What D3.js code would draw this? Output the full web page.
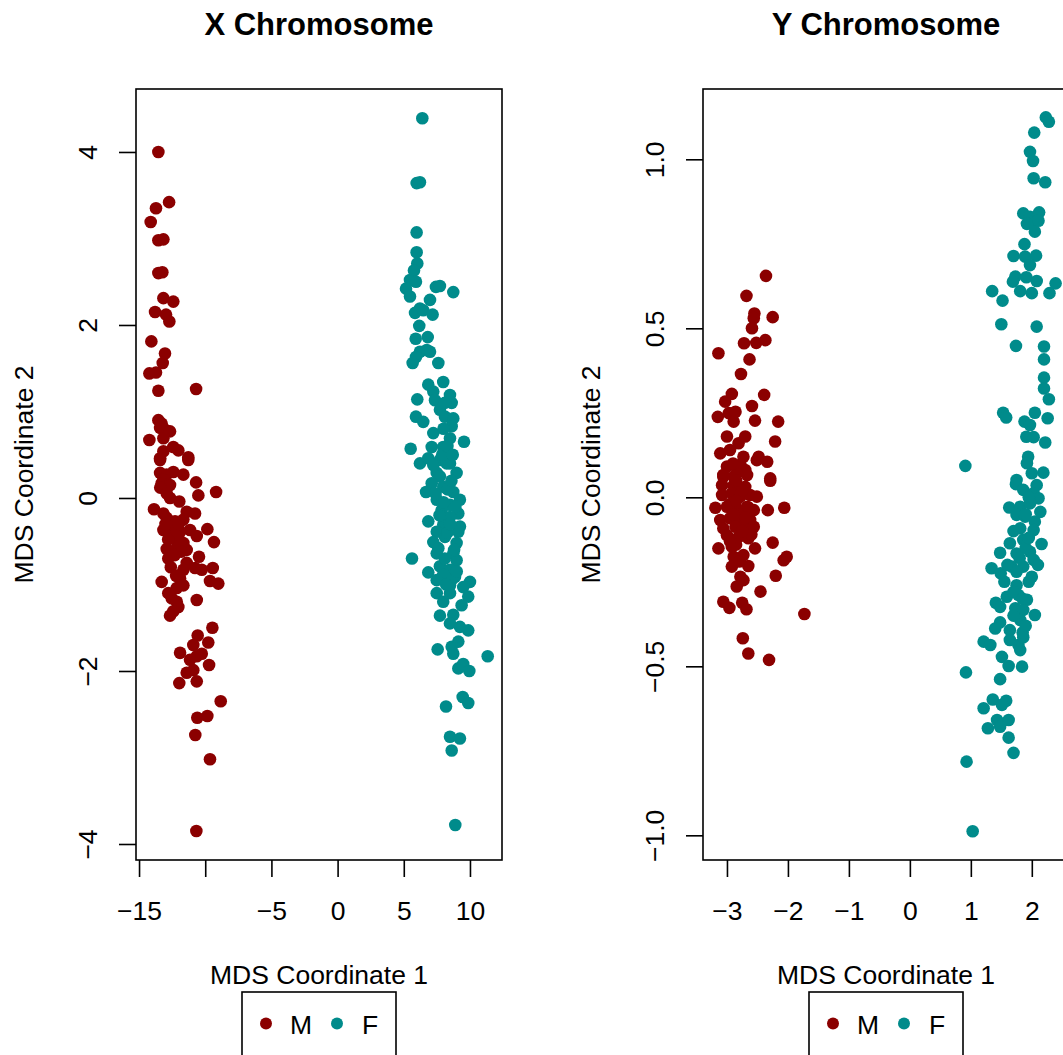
<!DOCTYPE html>
<html>
<head>
<meta charset="utf-8">
<script src="https://cdn.jsdelivr.net/npm/d3@7"></script>
<style>
  html, body { margin: 0; padding: 0; background: #fff; }
  svg text { font-family: "Liberation Sans", Arial, Helvetica, sans-serif; fill: #000; }
</style>
</head>
<body>
<svg id="chart" width="1063" height="1055"></svg>
<script>
// ---------- DATA ----------
const groups = ["M", "F"];
const groupColors = ["#8B0000", "#008B8B"];

const xChrMale = [
  [-13.54,4.00],[-12.73,3.42],[-13.72,3.35],[-14.12,3.19],[-13.54,2.98],[-13.16,2.99],[-13.54,2.60],[-13.24,2.61],
  [-13.16,2.31],[-12.41,2.27],[-13.79,2.15],[-12.96,2.12],[-12.71,2.04],[-14.07,1.81],[-13.04,1.67],[-13.21,1.56],
  [-14.22,1.44],[-13.72,1.45],[-13.54,1.24],[-10.69,1.26],[-13.54,0.90],[-13.29,0.86],[-13.41,0.81],[-13.04,0.79],
  [-12.66,0.77],[-13.16,0.69],[-14.22,0.67],[-12.41,0.59],[-12.03,0.55],[-13.16,0.54],[-13.41,0.46],[-11.28,0.47],
  [-13.41,0.44],[-11.28,0.44],[-13.41,0.29],[-12.91,0.27],[-13.16,0.21],[-12.41,0.30],[-11.65,0.27],[-13.29,0.17],
  [-12.66,0.15],[-10.69,0.18],[-9.18,0.07],[-10.52,0.03],[-12.66,0.00],[-11.96,-0.04],[-13.87,-0.13],[-13.16,-0.18],
  [-11.40,-0.16],[-10.77,-0.18],[-12.91,-0.23],[-12.28,-0.27],[-11.65,-0.25],[-13.16,-0.37],[-12.53,-0.35],[-11.90,-0.39],
  [-11.15,-0.37],[-10.64,-0.44],[-12.66,-0.45],[-12.15,-0.49],[-11.65,-0.52],[-12.91,-0.59],[-12.15,-0.58],[-11.40,-0.60],
  [-12.79,-0.70],[-11.90,-0.50],[-12.41,-0.41],[-9.84,-0.36],[-9.34,-0.51],[-10.47,-0.68],[-11.40,-0.75],[-11.65,-0.83],
  [-10.77,-0.81],[-10.26,-0.83],[-9.43,-0.81],[-13.29,-0.97],[-11.90,-0.93],[-11.65,-1.01],[-12.15,-1.04],[-9.64,-0.96],
  [-9.01,-0.99],[-12.79,-1.10],[-12.53,-1.16],[-12.15,-1.20],[-12.03,-1.26],[-12.41,-1.31],[-12.66,-1.36],[-10.64,-1.18],
  [-9.46,-1.50],[-10.57,-1.59],[-9.77,-1.67],[-10.90,-1.70],[-11.90,-1.79],[-10.26,-1.80],[-10.64,-1.83],[-11.15,-1.87],
  [-9.71,-1.93],[-10.90,-1.99],[-11.40,-2.02],[-11.96,-2.14],[-10.64,-2.12],[-8.83,-2.35],[-10.60,-2.54],[-9.84,-2.52],
  [-10.75,-2.74],[-9.64,-3.02],[-10.67,-3.85],
  [-12.50,-0.30],[-12.20,-0.42],[-12.00,-0.30],[-12.80,-0.48],[-11.80,-0.62],[-12.30,-0.66],[-13.00,-0.30],[-12.60,-0.80],
  [-12.20,-0.90],[-13.40,0.12],[-12.90,0.05]
];

const xChrFemale = [
  [6.40,4.39],[5.97,3.64],[6.22,3.65],[5.97,3.07],[5.97,2.84],[6.02,2.71],[5.77,2.63],[5.47,2.52],[5.92,2.50],[5.17,2.42],
  [5.47,2.33],[7.43,2.44],[7.73,2.45],[8.74,2.38],[6.98,2.29],[6.22,2.19],[5.85,2.14],[6.47,2.17],[7.18,2.12],[6.17,1.99],
  [5.90,1.84],[6.81,1.86],[6.22,1.69],[6.73,1.71],[6.98,1.69],[5.92,1.63],[5.67,1.56],[7.61,1.56],[6.85,1.31],[7.98,1.34],
  [7.23,1.23],[6.02,1.14],[8.49,1.19],[8.62,1.10],[7.36,1.13],[7.73,1.02],[5.92,0.94],[6.47,0.88],[8.11,0.94],[8.74,0.92],
  [8.62,0.83],[7.23,0.75],[8.49,0.69],[9.55,0.65],[7.11,0.59],[7.98,0.59],[5.52,0.57],[6.22,0.40],[6.85,0.46],[7.73,0.44],
  [8.49,0.40],[8.99,0.29],[7.49,0.29],[7.23,0.38],[8.24,0.40],[7.73,0.25],[7.11,0.17],[7.98,0.13],[6.68,0.07],[8.74,0.07],
  [7.49,-0.02],[9.24,-0.02],[8.49,-0.08],[7.86,-0.14],[9.12,-0.18],[8.49,-0.22],[6.85,-0.27],[7.98,-0.31],[9.24,-0.33],[7.49,-0.39],
  [9.12,-0.39],[8.11,-0.45],[7.23,-0.51],[8.99,-0.52],[7.61,-0.58],[7.49,-0.64],[8.74,-0.64],[5.62,-0.70],[8.99,-0.72],[7.73,-0.79],
  [8.49,-0.83],[6.85,-0.86],[7.98,-0.89],[8.87,-0.91],[7.49,-0.95],[10.00,-0.97],[8.49,-1.01],[9.49,-1.03],[7.49,-1.10],[8.49,-1.10],
  [9.87,-1.14],[7.98,-1.20],[9.37,-1.24],[7.73,-1.36],[8.74,-1.35],[8.49,-1.45],[9.24,-1.49],[9.87,-1.53],[9.12,-1.66],[8.62,-1.72],
  [7.56,-1.75],[8.74,-1.80],[11.34,-1.83],[9.12,-1.97],[9.49,-1.92],[9.95,-2.00],[8.19,-2.41],[9.45,-2.30],[9.87,-2.37],[8.49,-2.76],
  [9.24,-2.78],[8.62,-2.92],[8.89,-3.78],
  [8.30,0.10],[8.00,-0.05],[8.60,0.20],[7.70,-0.20],[8.30,-0.40],[8.80,-0.60],[8.10,-0.70],[8.60,-0.95],[8.20,-1.00],[7.90,0.50],
  [8.30,0.60],[8.00,0.80],[8.90,-0.10],[8.50,-0.30],[7.40,0.05],[9.00,-0.85],[8.70,0.50],[8.10,1.10]
];

const yChrMale = [
  [-2.36,0.655],[-2.68,0.596],[-2.55,0.544],[-2.56,0.530],[-2.59,0.500],[-2.25,0.533],[-3.14,0.426],[-2.72,0.456],
  [-2.52,0.457],[-2.37,0.465],[-2.63,0.408],[-2.77,0.365],[-2.92,0.306],[-3.03,0.283],[-2.39,0.303],[-2.59,0.270],
  [-3.15,0.238],[-2.97,0.249],[-2.86,0.253],[-2.89,0.224],[-2.54,0.227],[-2.16,0.224],[-2.21,0.165],[-2.81,0.160],
  [-3.11,0.130],[-2.95,0.140],[-2.73,0.120],[-2.48,0.120],[-2.34,0.105],[-3.00,0.091],[-2.84,0.091],[-2.70,0.081],
  [-2.29,0.056],[-3.06,0.061],[-2.89,0.061],[-2.78,0.096],[-2.51,0.110],[-3.06,0.066],[-2.84,0.071],[-2.67,0.066],
  [-2.29,0.049],[-3.08,0.036],[-2.89,0.036],[-2.70,0.031],[-3.08,0.007],[-2.92,0.012],[-2.78,0.002],[-2.62,0.007],
  [-2.51,0.002],[-3.19,-0.031],[-3.00,-0.028],[-2.84,-0.033],[-2.67,-0.028],[-2.56,-0.038],[-2.33,-0.038],[-2.06,-0.031],
  [-3.11,-0.067],[-2.95,-0.062],[-2.78,-0.072],[-2.62,-0.067],[-3.06,-0.092],[-2.86,-0.087],[-2.70,-0.092],[-2.56,-0.087],
  [-3.00,-0.112],[-2.81,-0.117],[-2.65,-0.121],[-3.14,-0.151],[-2.92,-0.146],[-2.54,-0.151],[-2.25,-0.134],[-2.89,-0.176],
  [-2.73,-0.171],[-2.07,-0.186],[-2.02,-0.176],[-2.92,-0.205],[-2.65,-0.203],[-2.78,-0.235],[-2.20,-0.232],[-2.84,-0.264],
  [-2.73,-0.245],[-2.45,-0.279],[-3.06,-0.309],[-2.96,-0.327],[-2.75,-0.312],[-2.68,-0.331],[-1.73,-0.345],[-2.74,-0.417],
  [-2.65,-0.462],[-2.31,-0.481],
  [-2.80,-0.050],[-2.95,-0.020],[-2.75,0.020],[-2.85,-0.140],[-2.60,-0.110],[-3.00,0.180],[-2.70,0.180],[-2.85,-0.010],
  [-2.90,-0.050],[-2.75,-0.100],[-2.85,0.050],[-2.65,-0.030],[-2.95,-0.130],[-2.80,-0.190],[-2.70,-0.060],[-2.90,0.100]
];

const yChrFemale = [
  [2.23,1.124],[2.28,1.111],[2.04,1.079],[1.97,1.022],[2.02,0.995],[2.03,0.944],[2.22,0.932],[1.86,0.840],[1.97,0.830],
  [2.12,0.843],[2.03,0.815],[1.92,0.809],[2.11,0.818],[2.05,0.786],[1.88,0.749],[1.70,0.714],[1.89,0.712],[2.07,0.715],
  [1.97,0.687],[1.73,0.653],[1.91,0.651],[1.69,0.638],[2.08,0.640],[1.81,0.610],[2.00,0.604],[2.29,0.604],[2.39,0.633],
  [1.35,0.610],[1.52,0.582],[1.50,0.512],[2.08,0.505],[1.74,0.448],[2.20,0.446],[2.20,0.408],[2.20,0.354],[2.20,0.322],
  [2.28,0.290],[1.53,0.250],[1.58,0.236],[2.05,0.250],[2.26,0.234],[1.88,0.224],[1.97,0.214],[1.91,0.179],[2.03,0.178],
  [2.22,0.162],[0.91,0.093],[1.94,0.120],[1.92,0.101],[2.19,0.073],[2.00,0.071],[1.75,0.051],
  [1.74,0.039],[2.08,0.036],[1.86,0.022],[2.03,0.012],[2.11,-0.003],[1.63,-0.030],[1.81,-0.028],[1.97,-0.018],[2.14,-0.043],
  [1.75,-0.052],[1.89,-0.057],[2.05,-0.072],[1.81,-0.092],[2.03,-0.097],[2.16,-0.138],[1.64,-0.136],[1.86,-0.126],[1.48,-0.164],
  [1.75,-0.166],[1.97,-0.161],[2.03,-0.185],[1.34,-0.210],[1.49,-0.225],[1.67,-0.205],[1.86,-0.205],[2.00,-0.235],[1.75,-0.260],
  [1.59,-0.294],[1.78,-0.289],[1.92,-0.303],[1.41,-0.312],[1.48,-0.324],[1.73,-0.328],[1.86,-0.333],[2.05,-0.348],[1.81,-0.363],
  [1.48,-0.370],[1.64,-0.393],[1.40,-0.388],[1.21,-0.427],[1.32,-0.437],[1.64,-0.422],[1.78,-0.437],[1.86,-0.414],[1.81,-0.452],
  [1.51,-0.472],[1.62,-0.499],[1.84,-0.501],[0.92,-0.518],[1.48,-0.538],[1.36,-0.598],[1.58,-0.602],[1.21,-0.624],[1.51,-0.614],
  [1.43,-0.659],[1.62,-0.659],[1.28,-0.683],[1.48,-0.679],[1.62,-0.711],[1.70,-0.756],[0.93,-0.782],[1.03,-0.988],
  [1.90,-0.150],[1.70,-0.100],[1.95,-0.250],[1.60,-0.200],[1.85,-0.400],[1.70,-0.350],[2.10,-0.200],[1.55,-0.250],
  [1.90,-0.050],[1.80,-0.180],[1.95,0.000],[1.70,-0.280],[1.85,-0.300],[1.95,-0.120],[1.75,-0.220],[1.90,-0.380]
];

const panelTitles = ["X Chromosome", "Y Chromosome"];
const xAxisLabel = "MDS Coordinate 1";
const yAxisLabel = "MDS Coordinate 2";

const xTicksLeft = [-15, -10, -5, 0, 5, 10];
const xTickLabelsLeft = ["\u221215", "", "\u22125", "0", "5", "10"];
const yTicksLeft = [-4, -2, 0, 2, 4];
const yTickLabelsLeft = ["\u22124", "\u22122", "0", "2", "4"];

const xTicksRight = [-3, -2, -1, 0, 1, 2];
const xTickLabelsRight = ["\u22123", "\u22122", "\u22121", "0", "1", "2"];
const yTicksRight = [-1, -0.5, 0, 0.5, 1];
const yTickLabelsRight = ["\u22121.0", "\u22120.5", "0.0", "0.5", "1.0"];

const xDomainLeft = [-15.23, 12.42];
const yDomainLeft = [-4.185, 4.728];
const xDomainRight = [-3.393, 2.61];
const yDomainRight = [-1.073, 1.208];

// ---------- DRAW ----------
(function draw() {
  const svg = d3.select("#chart");
  const labelSize = 26.5, titleSize = 31;
  const fontFam = '"Liberation Sans", Arial, sans-serif';

  const panels = [
    { left: 136, title: panelTitles[0], male: xChrMale, female: xChrFemale,
      xd: xDomainLeft, yd: yDomainLeft, xt: xTicksLeft, xl: xTickLabelsLeft, yt: yTicksLeft, yl: yTickLabelsLeft },
    { left: 703, title: panelTitles[1], male: yChrMale, female: yChrFemale,
      xd: xDomainRight, yd: yDomainRight, xt: xTicksRight, xl: xTickLabelsRight, yt: yTicksRight, yl: yTickLabelsRight }
  ];

  const plotTop = 89, plotBottom = 860, boxW = 366, tickLen = 17;

  panels.forEach(p => {
    const x = d3.scaleLinear().domain(p.xd).range([p.left, p.left + boxW]);
    const y = d3.scaleLinear().domain(p.yd).range([plotBottom, plotTop]);
    const g = svg.append("g");

    [[p.male, groupColors[0]], [p.female, groupColors[1]]].forEach(([data, col]) => {
      g.append("g").selectAll("circle").data(data).join("circle")
        .attr("cx", d => x(d[0])).attr("cy", d => y(d[1]))
        .attr("r", 6.3).attr("fill", col);
    });

    g.append("rect").attr("x", p.left).attr("y", plotTop).attr("width", boxW).attr("height", plotBottom - plotTop)
      .attr("fill", "none").attr("stroke", "#000").attr("stroke-width", 1.6);

    const xAxis = d3.axisBottom(x).tickValues(p.xt).tickSize(tickLen).tickFormat((d, i) => p.xl[i]);
    const xa = g.append("g").attr("transform", `translate(0,${plotBottom})`).call(xAxis);
    xa.select(".domain").remove();
    xa.selectAll(".tick line").attr("stroke", "#000").attr("stroke-width", 1.6);
    xa.selectAll(".tick text").attr("y", 60).attr("dy", null)
      .style("font-size", labelSize + "px").style("font-family", fontFam).attr("fill", "#000");

    const yAxis = d3.axisLeft(y).tickValues(p.yt).tickSize(tickLen).tickFormat((d, i) => p.yl[i]);
    const ya = g.append("g").attr("transform", `translate(${p.left},0)`).call(yAxis);
    ya.select(".domain").remove();
    ya.selectAll(".tick line").attr("stroke", "#000").attr("stroke-width", 1.6);
    ya.selectAll(".tick text")
      .attr("x", null).attr("dy", null)
      .attr("text-anchor", "middle")
      .attr("transform", "translate(-39,0) rotate(-90)")
      .style("font-size", labelSize + "px").style("font-family", fontFam).attr("fill", "#000");

    g.append("text").attr("x", p.left + boxW / 2).attr("y", 35).attr("text-anchor", "middle")
      .style("font-size", titleSize + "px").style("font-weight", "bold").text(p.title);

    g.append("text").attr("x", p.left + boxW / 2).attr("y", 984).attr("text-anchor", "middle")
      .style("font-size", labelSize + "px").text(xAxisLabel);
    g.append("text").attr("transform", `translate(${p.left - 103},${(plotTop + plotBottom) / 2}) rotate(-90)`)
      .attr("text-anchor", "middle").style("font-size", labelSize + "px").text(yAxisLabel);

    const lx = p.left + 106;
    const lg = g.append("g");
    lg.append("rect").attr("x", lx).attr("y", 992).attr("width", 154).attr("height", 80)
      .attr("fill", "none").attr("stroke", "#000").attr("stroke-width", 1.6);
    const itemX = [[lx + 24, lx + 48], [lx + 95, lx + 120]];
    groups.forEach((gname, i) => {
      lg.append("circle").attr("cx", itemX[i][0]).attr("cy", 1023.5).attr("r", 6).attr("fill", groupColors[i]);
      lg.append("text").attr("x", itemX[i][1]).attr("y", 1034).style("font-size", labelSize + "px").text(gname);
    });
  });
})();
</script>
</body>
</html>
